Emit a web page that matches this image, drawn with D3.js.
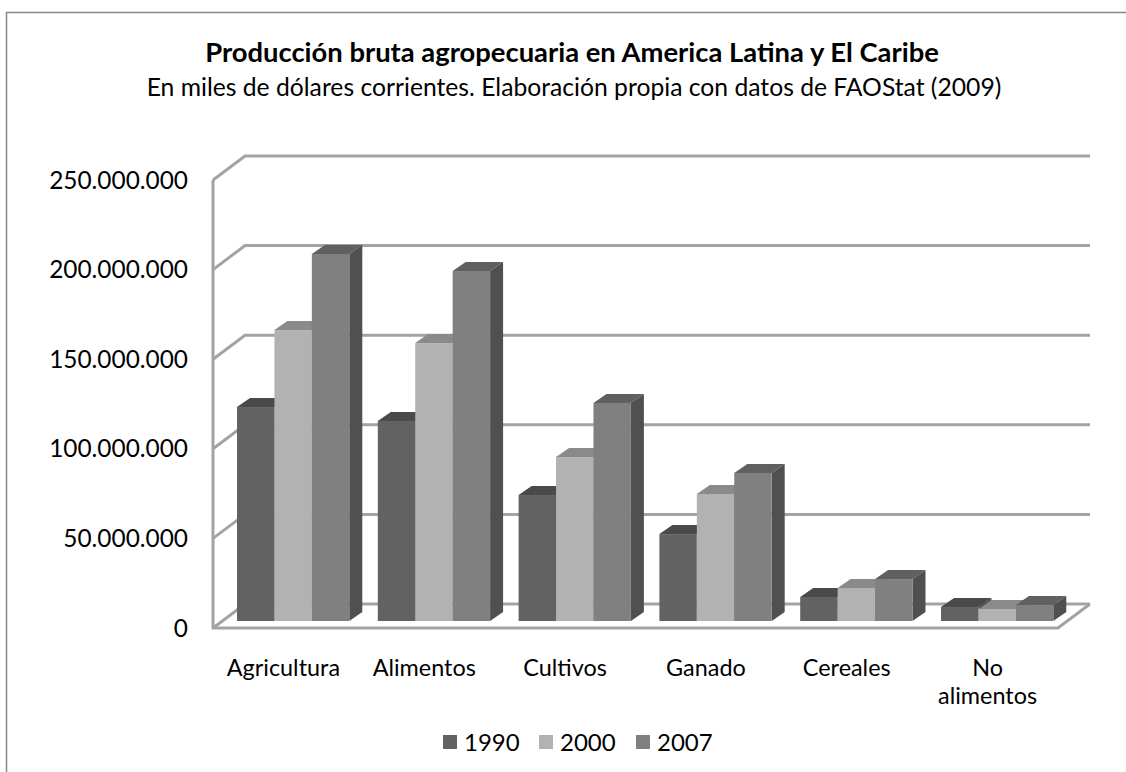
<!DOCTYPE html>
<html lang="es">
<head>
    <meta charset="UTF-8">
    <title>Producción bruta agropecuaria</title>
    <script src="https://d3js.org/d3.v7.min.js"></script>
    <style>
        body { margin: 0; background: #fff; overflow: hidden; }
        svg { display: block; font-family: 'Lato', sans-serif; fill: #000; }
        .grid { stroke: #a3a3a3; stroke-width: 3; fill: none; }
    </style>
</head>
<body>
    <svg id="chart" width="1126" height="772"></svg>
    <script>
        const categories = ["Agricultura", "Alimentos", "Cultivos", "Ganado", "Cereales", "No alimentos"];
        const years = ["1990", "2000", "2007"];
        const values1990 = [119400000, 111600000, 70300000, 48500000, 13400000, 7800000];
        const values2000 = [162400000, 155100000, 91500000, 70900000, 18400000, 6700000];
        const values2007 = [204800000, 195300000, 121700000, 82600000, 23400000, 8900000];
        const yTicks = [0, 50000000, 100000000, 150000000, 200000000, 250000000];

        const faceColors = ["#626262", "#b2b2b2", "#808080"];
        const topColors = ["#4a4a4a", "#8a8a8a", "#606060"];
        const sideColors = ["#484848", "#6e6e6e", "#505050"];

        const seriesValues = [values1990, values2000, values2007];

        const svg = d3.select("#chart");
        const fmt = d3.formatLocale({ decimal: ",", thousands: ".", grouping: [3], currency: ["", ""] }).format(",d");

        // offsets of the pseudo 3d projection
        const wallDx = 32, wallDy = -24;
        const barDx = 13, barDy = -9;
        const barLift = 7;

        const y = d3.scaleLinear().domain([0, 250000000]).range([628, 180]);
        const xPlot = d3.scaleBand().domain(categories).range([213, 1058]);
        const x0 = d3.scaleBand().domain(categories).range([237, 1053.3]).paddingInner(0.2025).paddingOuter(0);
        const x1 = d3.scaleBand().domain(years).range([0, x0.bandwidth()]);

        // outer frame, open on the right and bottom
        svg.append("path")
            .attr("d", "M6.5,772V12.5H1126")
            .attr("fill", "none").attr("stroke", "#868686").attr("stroke-width", 1.5);

        // titles
        svg.append("text").attr("x", 572).attr("y", 62).attr("text-anchor", "middle")
            .attr("font-size", 27.4).attr("font-weight", 700)
            .text("Producción bruta agropecuaria en America Latina y El Caribe");
        svg.append("text").attr("x", 574).attr("y", 96).attr("text-anchor", "middle")
            .attr("font-size", 24.7)
            .text("En miles de dólares corrientes. Elaboración propia con datos de FAOStat (2009)");

        // walls and floor
        const grid = svg.append("g").attr("class", "grid");
        yTicks.forEach(t => {
            grid.append("path").attr("d", d3.line()([
                [xPlot.range()[0], y(t)],
                [xPlot.range()[0] + wallDx, y(t) + wallDy],
                [xPlot.range()[1] + wallDx, y(t) + wallDy]
            ]));
        });
        grid.append("path").attr("d", d3.line()([
            [xPlot.range()[0], y(250000000)],
            [xPlot.range()[0], y(0)],
            [xPlot.range()[1], y(0)],
            [xPlot.range()[1] + wallDx, y(0) + wallDy]
        ]));

        // bars, left to right so each one covers the side of the previous one
        categories.forEach((cat, i) => {
            years.forEach((yr, s) => {
                const v = seriesValues[s][i];
                const xl = x0(cat) + x1(yr);
                const xr = xl + x1.bandwidth();
                const yt = y(v) - barLift;
                const yb = y(0) - barLift;
                const g = svg.append("g").attr("class", "bar");
                g.append("path").attr("fill", topColors[s]).attr("d", d3.line()([
                    [xl, yt], [xl + barDx, yt + barDy], [xr + barDx, yt + barDy], [xr, yt]
                ]) + "Z");
                g.append("path").attr("fill", sideColors[s]).attr("d", d3.line()([
                    [xr, yt], [xr + barDx, yt + barDy], [xr + barDx, yb + barDy], [xr, yb]
                ]) + "Z");
                g.append("rect").attr("fill", faceColors[s])
                    .attr("x", xl).attr("y", yt)
                    .attr("width", x1.bandwidth()).attr("height", yb - yt);
            });
        });

        // value axis labels
        svg.append("g").selectAll("text").data(yTicks).enter().append("text")
            .attr("x", 188).attr("y", d => y(d)).attr("dy", "0.35em")
            .attr("text-anchor", "end").attr("font-size", 24.4)
            .text(d => fmt(d));

        // category labels, the long one goes on two lines
        categories.forEach(cat => {
            const words = cat === "No alimentos" ? cat.split(" ") : [cat];
            const t = svg.append("text").attr("text-anchor", "middle").attr("font-size", 23.4);
            words.forEach((w, k) => {
                t.append("tspan")
                    .attr("x", xPlot(cat) + xPlot.bandwidth() / 2)
                    .attr("y", 676 + k * 28)
                    .text(w);
            });
        });

        // legend
        const legendX = [443, 539, 636];
        years.forEach((yr, s) => {
            svg.append("rect").attr("x", legendX[s]).attr("y", 735)
                .attr("width", 14).attr("height", 14).attr("fill", faceColors[s]);
            svg.append("text").attr("x", legendX[s] + 21).attr("y", 751)
                .attr("font-size", 24).text(yr);
        });
    </script>
</body>
</html>
